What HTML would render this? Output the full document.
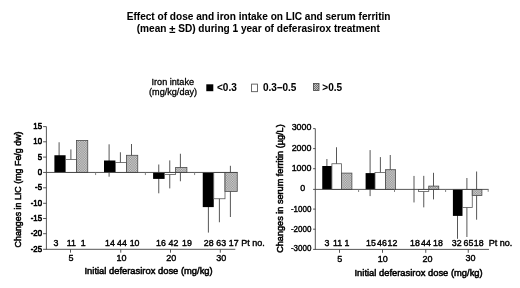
<!DOCTYPE html>
<html><head><meta charset="utf-8"><title>Effect of dose and iron intake on LIC and serum ferritin</title>
<style>html,body{margin:0;padding:0;background:#fff;}body{width:520px;height:288px;overflow:hidden;}svg{display:block;filter:blur(0.42px);}text{font-family:"Liberation Sans",Arial,Helvetica,sans-serif;fill:#000;stroke:#000;stroke-width:0.4px;stroke-linejoin:round;}.b text{stroke-width:0.05px;}.h text,text.h{stroke-width:0.5px;}.g text{stroke-width:0.3px;}.k text{stroke-width:0.65px;}.m text{stroke-width:0.4px;}</style>
</head><body>
<svg width="520" height="288" viewBox="0 0 520 288">
<defs><pattern id="hatch" width="2" height="2" patternUnits="userSpaceOnUse" patternTransform="scale(0.85)"><rect width="2" height="2" fill="#d6d6d6"/><rect x="0" y="0" width="1" height="1" fill="#8c8c8c"/><rect x="1" y="1" width="1" height="1" fill="#8c8c8c"/></pattern><pattern id="hatch2" width="2" height="2" patternUnits="userSpaceOnUse"><rect width="2" height="2" fill="#c4c4c4"/><rect x="0" y="0" width="1" height="1" fill="#707070"/><rect x="1" y="1" width="1" height="1" fill="#707070"/></pattern></defs>
<rect width="520" height="288" fill="#fff"/>
<g class="b" font-weight="bold" font-size="10.09" text-anchor="middle">
<text x="258.6" y="20.4">Effect of dose and iron intake on LIC and serum ferritin</text>
<text x="258.3" y="32.4">(mean <tspan font-size="11.2" dy="0.4">±</tspan><tspan dy="-0.4"> SD) during 1 year of deferasirox treatment</tspan></text>
</g>
<g class="g" font-size="9.1" text-anchor="middle"><text x="172.8" y="84.8">Iron intake</text><text x="173.1" y="94.8">(mg/kg/day)</text></g>
<rect x="206.3" y="84.3" width="7" height="6.9" fill="#000"/>
<rect x="251.6" y="84.1" width="5.8" height="7.6" fill="#fff" stroke="#444" stroke-width="0.8"/>
<rect x="313.4" y="83.5" width="5.6" height="7" fill="url(#hatch2)" stroke="#444" stroke-width="0.8"/>
<g class="b" font-weight="bold" font-size="10"><text x="217" y="90.6">&lt;0.3</text><text x="263" y="90.6">0.3–0.5</text><text x="322.3" y="90.5">&gt;0.5</text></g>
<g stroke="#444" stroke-width="0.9" fill="none">
<line x1="59.1" y1="142.25" x2="59.1" y2="168.25"/>
<line x1="70.9" y1="149.40" x2="70.9" y2="169.40"/>
<line x1="109.1" y1="144.30" x2="109.1" y2="176.70"/>
<line x1="120.4" y1="152.25" x2="120.4" y2="172.75"/>
<line x1="131.5" y1="144.00" x2="131.5" y2="166.60"/>
<line x1="158.75" y1="164.50" x2="158.75" y2="193.30"/>
<line x1="169.75" y1="160.40" x2="169.75" y2="188.40"/>
<line x1="180.4" y1="153.75" x2="180.4" y2="181.25"/>
<line x1="208.4" y1="181.60" x2="208.4" y2="232.60"/>
<line x1="219.4" y1="175.25" x2="219.4" y2="222.25"/>
<line x1="230.4" y1="165.80" x2="230.4" y2="217.00"/>
</g>
<rect x="54.4" y="155.25" width="11.20" height="17.20" fill="#000"/>
<rect x="65.60" y="159.40" width="10.90" height="13.05" fill="#fff" stroke="#585858" stroke-width="0.8"/>
<rect x="76.50" y="140.40" width="11.25" height="32.05" fill="url(#hatch)" stroke="#4a4a4a" stroke-width="0.8"/>
<rect x="104.0" y="160.50" width="11.40" height="11.95" fill="#000"/>
<rect x="115.40" y="162.50" width="11.10" height="9.95" fill="#fff" stroke="#585858" stroke-width="0.8"/>
<rect x="126.50" y="155.30" width="11.25" height="17.15" fill="url(#hatch)" stroke="#4a4a4a" stroke-width="0.8"/>
<rect x="153.1" y="172.45" width="11.50" height="6.45" fill="#000"/>
<rect x="164.60" y="172.45" width="11.00" height="1.95" fill="#fff" stroke="#585858" stroke-width="0.8"/>
<rect x="175.60" y="167.50" width="11.30" height="4.95" fill="url(#hatch)" stroke="#4a4a4a" stroke-width="0.8"/>
<rect x="202.75" y="172.45" width="11.00" height="34.65" fill="#000"/>
<rect x="213.75" y="172.45" width="11.25" height="26.30" fill="#fff" stroke="#585858" stroke-width="0.8"/>
<rect x="225.00" y="172.45" width="12.25" height="18.95" fill="url(#hatch)" stroke="#4a4a4a" stroke-width="0.8"/>
<g stroke="#444" stroke-width="0.9" fill="none">
<line x1="46.4" y1="126.6" x2="46.4" y2="249.8"/>
<line x1="46.4" y1="249.3" x2="235.3" y2="249.3"/>
<line x1="46.4" y1="172.45" x2="237.5" y2="172.45"/>
<line x1="43.1" y1="126.6" x2="46.4" y2="126.6"/>
<line x1="43.1" y1="141.8" x2="46.4" y2="141.8"/>
<line x1="43.1" y1="157.1" x2="46.4" y2="157.1"/>
<line x1="43.1" y1="172.45" x2="46.4" y2="172.45"/>
<line x1="43.1" y1="187.8" x2="46.4" y2="187.8"/>
<line x1="43.1" y1="203.3" x2="46.4" y2="203.3"/>
<line x1="43.1" y1="218.5" x2="46.4" y2="218.5"/>
<line x1="43.1" y1="233.7" x2="46.4" y2="233.7"/>
<line x1="43.1" y1="249.3" x2="46.4" y2="249.3"/>
<line x1="95.6" y1="172.45" x2="95.6" y2="175.04999999999998" stroke="#777"/>
<line x1="145.4" y1="172.45" x2="145.4" y2="175.04999999999998" stroke="#777"/>
<line x1="194.6" y1="172.45" x2="194.6" y2="175.04999999999998" stroke="#777"/>
<line x1="70.5" y1="249.3" x2="70.5" y2="252.70000000000002"/>
<line x1="120.75" y1="249.3" x2="120.75" y2="252.70000000000002"/>
<line x1="170.5" y1="249.3" x2="170.5" y2="252.70000000000002"/>
<line x1="220.3" y1="249.3" x2="220.3" y2="252.70000000000002"/>
</g>
<g class="k" font-size="8.9" text-anchor="end">
<text transform="translate(42.0,129.25) scale(0.880,1)">15</text>
<text transform="translate(42.0,144.45) scale(0.880,1)">10</text>
<text transform="translate(42.0,159.75) scale(0.880,1)">5</text>
<text transform="translate(42.0,175.10) scale(0.880,1)">0</text>
<text transform="translate(42.0,190.45) scale(0.880,1)">-5</text>
<text transform="translate(42.0,205.95) scale(0.880,1)">-10</text>
<text transform="translate(42.0,221.15) scale(0.880,1)">-15</text>
<text transform="translate(42.0,236.35) scale(0.880,1)">-20</text>
<text transform="translate(42.0,251.95) scale(0.880,1)">-25</text>
</g>
<g font-size="8.8" text-anchor="middle">
<text x="55.9" y="245.7">3</text>
<text x="71.25" y="245.7">11</text>
<text x="83.3" y="245.7">1</text>
<text x="109.9" y="245.7">14</text>
<text x="121.9" y="245.7">44</text>
<text x="134.6" y="245.7">10</text>
<text x="161" y="245.7">16</text>
<text x="173.4" y="245.7">42</text>
<text x="186.9" y="245.7">19</text>
<text x="208.75" y="245.7">28</text>
<text x="221.25" y="245.7">63</text>
<text x="233.75" y="245.7">17</text>
</g>
<text font-size="9" x="241.2" y="245.7">Pt no.</text>
<g font-size="9" text-anchor="middle">
<text x="70.9" y="261">5</text>
<text x="121.6" y="261">10</text>
<text x="171.25" y="261">20</text>
<text x="221.25" y="261">30</text>
</g>
<text class="h" font-size="9.38" x="84.5" y="274">Initial deferasirox dose (mg/kg)</text>
<text class="h" font-size="8.88" transform="translate(21.3,247.4) rotate(-90)">Changes in LIC (mg Fe/g dw)</text>
<g stroke="#444" stroke-width="0.9" fill="none">
<line x1="326.9" y1="159.00" x2="326.9" y2="173.00"/>
<line x1="336.5" y1="147.25" x2="336.5" y2="180.25"/>
<line x1="370.1" y1="150.10" x2="370.1" y2="196.10"/>
<line x1="380.4" y1="157.10" x2="380.4" y2="187.70"/>
<line x1="390.25" y1="155.00" x2="390.25" y2="184.40"/>
<line x1="414.0" y1="175.95" x2="414.0" y2="202.45"/>
<line x1="423.75" y1="175.85" x2="423.75" y2="207.35"/>
<line x1="433.5" y1="172.80" x2="433.5" y2="199.40"/>
<line x1="457.5" y1="193.00" x2="457.5" y2="238.80"/>
<line x1="466.9" y1="178.00" x2="466.9" y2="237.00"/>
<line x1="476.6" y1="171.50" x2="476.6" y2="219.70"/>
</g>
<rect x="322.25" y="166.00" width="9.65" height="23.40" fill="#000"/>
<rect x="331.90" y="163.75" width="9.60" height="25.65" fill="#fff" stroke="#585858" stroke-width="0.8"/>
<rect x="341.50" y="173.10" width="10.40" height="16.30" fill="url(#hatch)" stroke="#4a4a4a" stroke-width="0.8"/>
<rect x="365.6" y="173.10" width="9.40" height="16.30" fill="#000"/>
<rect x="375.00" y="172.40" width="10.40" height="17.00" fill="#fff" stroke="#585858" stroke-width="0.8"/>
<rect x="385.40" y="169.70" width="10.20" height="19.70" fill="url(#hatch)" stroke="#4a4a4a" stroke-width="0.8"/>
<rect x="418.50" y="189.40" width="10.25" height="2.20" fill="#fff" stroke="#585858" stroke-width="0.8"/>
<rect x="428.75" y="186.10" width="10.00" height="3.30" fill="url(#hatch)" stroke="#4a4a4a" stroke-width="0.8"/>
<rect x="452.9" y="189.40" width="9.60" height="26.50" fill="#000"/>
<rect x="462.50" y="189.40" width="9.75" height="18.10" fill="#fff" stroke="#585858" stroke-width="0.8"/>
<rect x="472.25" y="189.40" width="9.65" height="6.20" fill="url(#hatch)" stroke="#4a4a4a" stroke-width="0.8"/>
<g stroke="#444" stroke-width="0.9" fill="none">
<line x1="315.3" y1="128.6" x2="315.3" y2="249.9"/>
<line x1="315.3" y1="249.4" x2="489.0" y2="249.4"/>
<line x1="315.3" y1="189.4" x2="488.6" y2="189.4"/>
<line x1="313.1" y1="128.6" x2="315.3" y2="128.6"/>
<line x1="313.1" y1="148.6" x2="315.3" y2="148.6"/>
<line x1="313.1" y1="168.7" x2="315.3" y2="168.7"/>
<line x1="313.1" y1="189.4" x2="315.3" y2="189.4"/>
<line x1="313.1" y1="209.1" x2="315.3" y2="209.1"/>
<line x1="313.1" y1="229.2" x2="315.3" y2="229.2"/>
<line x1="313.1" y1="249.4" x2="315.3" y2="249.4"/>
<line x1="358.6" y1="189.4" x2="358.6" y2="192.0" stroke="#777"/>
<line x1="394.5" y1="189.4" x2="394.5" y2="192.0" stroke="#777"/>
<line x1="445.6" y1="189.4" x2="445.6" y2="192.0" stroke="#777"/>
<line x1="488.20000000000005" y1="189.4" x2="488.20000000000005" y2="191.8" stroke="#777"/>
<line x1="339.5" y1="249.4" x2="339.5" y2="252.8"/>
<line x1="382.5" y1="249.4" x2="382.5" y2="252.8"/>
<line x1="425.75" y1="249.4" x2="425.75" y2="252.8"/>
<line x1="468.25" y1="249.4" x2="468.25" y2="252.8"/>
</g>
<g class="m" font-size="8.9" text-anchor="end">
<text transform="translate(311.4,130.20) scale(1.000,1)">3000</text>
<text transform="translate(311.4,150.60) scale(1.000,1)">2000</text>
<text transform="translate(311.4,171.00) scale(1.000,1)">1000</text>
<text transform="translate(305.2,191.00) scale(1.000,1)">0</text>
<text transform="translate(311.4,211.90) scale(0.900,1)">-1000</text>
<text transform="translate(311.4,231.80) scale(0.900,1)">-2000</text>
<text transform="translate(311.4,251.00) scale(0.900,1)">-3000</text>
</g>
<g font-size="8.8" text-anchor="middle">
<text x="326.9" y="245.7">3</text>
<text x="337.5" y="245.7">11</text>
<text x="347.0" y="245.7">1</text>
<text x="371" y="245.7">15</text>
<text x="381.9" y="245.7">46</text>
<text x="392.5" y="245.7">12</text>
<text x="415" y="245.7">18</text>
<text x="425.9" y="245.7">44</text>
<text x="437.9" y="245.7">18</text>
<text x="456.75" y="245.7">32</text>
<text x="468.5" y="245.7">65</text>
<text x="478.75" y="245.7">18</text>
</g>
<text font-size="9" x="488.7" y="245.7">Pt no.</text>
<g font-size="9" text-anchor="middle">
<text x="339.75" y="262.2">5</text>
<text x="382.75" y="262.2">10</text>
<text x="427.5" y="261.8">20</text>
<text x="470.4" y="260.5">30</text>
</g>
<text class="h" font-size="9.38" x="354.5" y="275.5">Initial deferasirox dose (mg/kg)</text>
<text class="h" font-size="9.15" transform="translate(283.2,252.8) rotate(-90)">Changes in serum ferritin (µg/L)</text>
</svg></body></html>
